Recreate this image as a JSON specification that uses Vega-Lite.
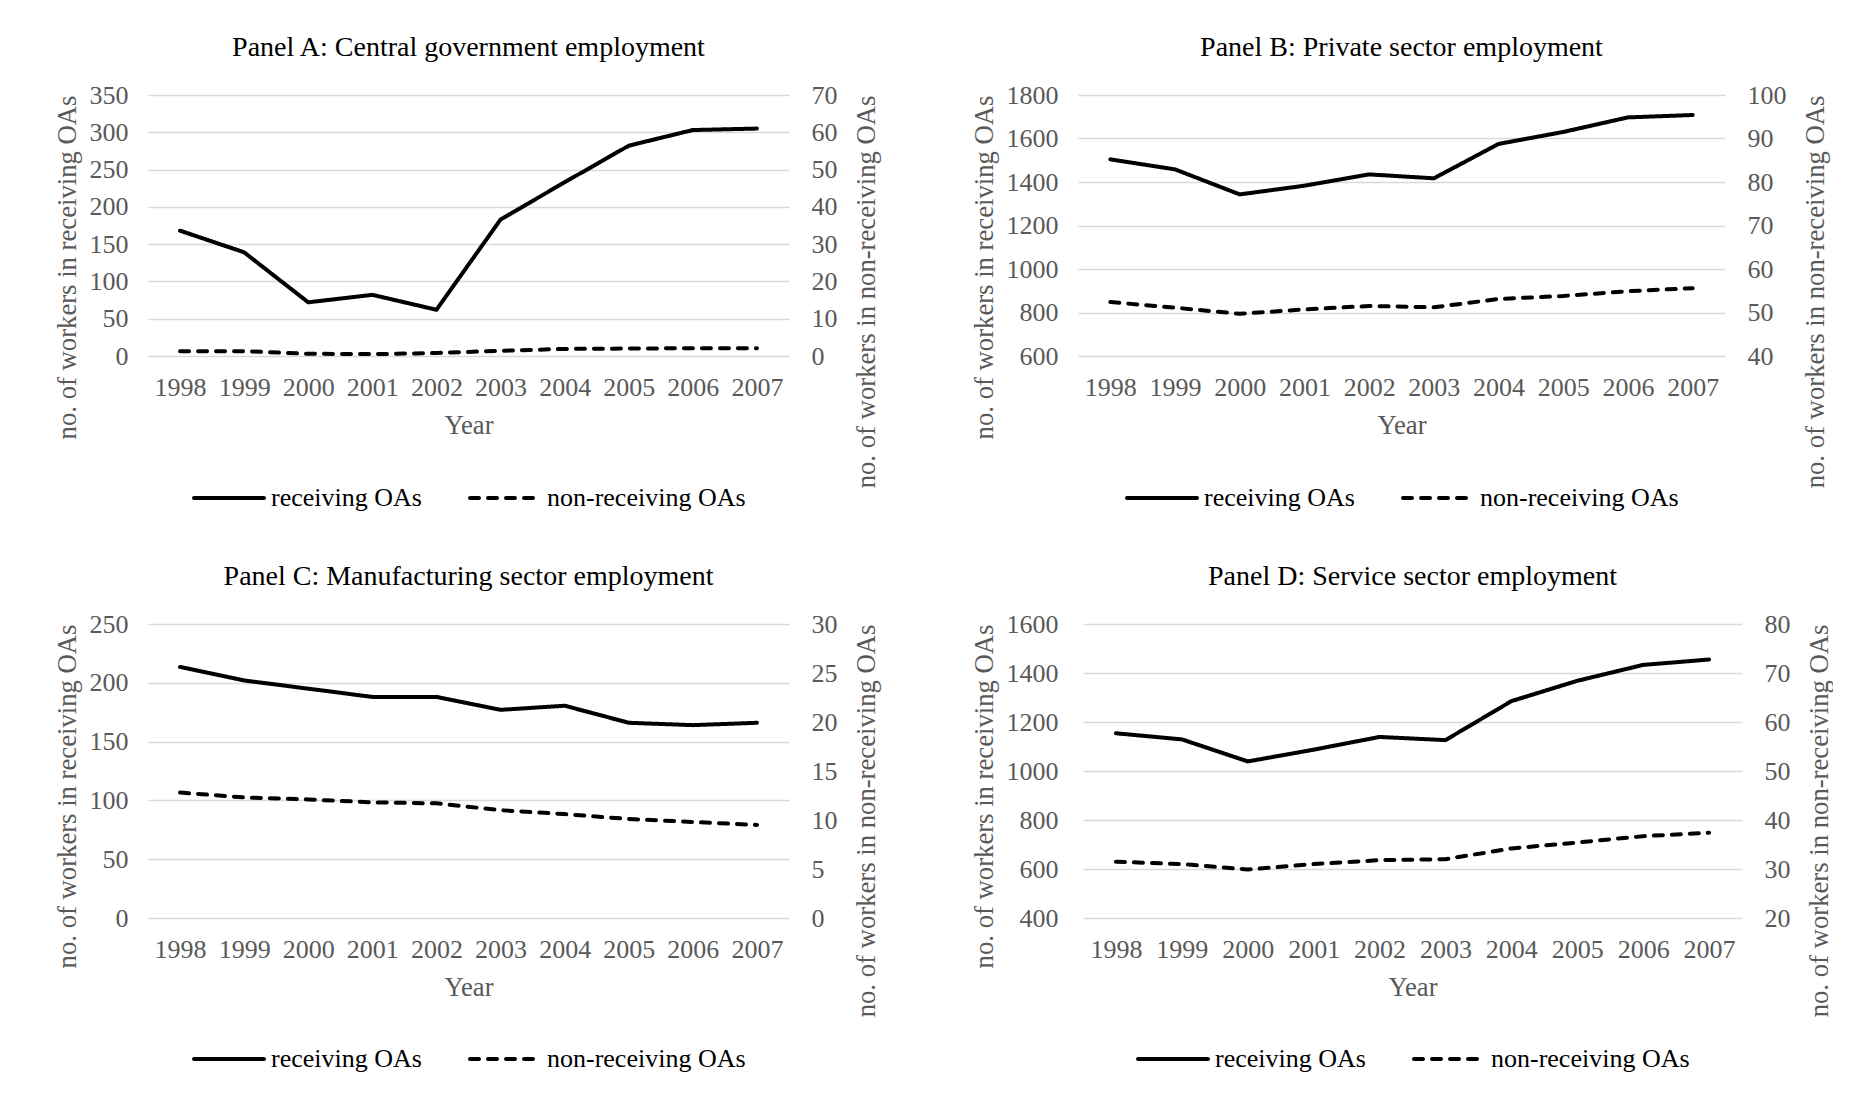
{
  "$schema": "https://vega.github.io/schema/vega-lite/v6.json",
  "background": "white",
  "padding": {"left": 53, "top": 34, "right": 0, "bottom": 0},
  "data": {"values": [
    {"panel":"A","year":"1998","receiving":168,"nonreceiving":1.3},
    {"panel":"A","year":"1999","receiving":139,"nonreceiving":1.3},
    {"panel":"A","year":"2000","receiving":72,"nonreceiving":0.6},
    {"panel":"A","year":"2001","receiving":82,"nonreceiving":0.5},
    {"panel":"A","year":"2002","receiving":62,"nonreceiving":0.8},
    {"panel":"A","year":"2003","receiving":183,"nonreceiving":1.4},
    {"panel":"A","year":"2004","receiving":233,"nonreceiving":1.9},
    {"panel":"A","year":"2005","receiving":282,"nonreceiving":2.0},
    {"panel":"A","year":"2006","receiving":303,"nonreceiving":2.1},
    {"panel":"A","year":"2007","receiving":305,"nonreceiving":2.1},
    {"panel":"B","year":"1998","receiving":1504,"nonreceiving":52.4},
    {"panel":"B","year":"1999","receiving":1458,"nonreceiving":51.1},
    {"panel":"B","year":"2000","receiving":1343,"nonreceiving":49.7},
    {"panel":"B","year":"2001","receiving":1383,"nonreceiving":50.7},
    {"panel":"B","year":"2002","receiving":1435,"nonreceiving":51.5},
    {"panel":"B","year":"2003","receiving":1417,"nonreceiving":51.2},
    {"panel":"B","year":"2004","receiving":1575,"nonreceiving":53.1},
    {"panel":"B","year":"2005","receiving":1630,"nonreceiving":53.8},
    {"panel":"B","year":"2006","receiving":1697,"nonreceiving":54.9},
    {"panel":"B","year":"2007","receiving":1708,"nonreceiving":55.6},
    {"panel":"C","year":"1998","receiving":213.5,"nonreceiving":12.8},
    {"panel":"C","year":"1999","receiving":202,"nonreceiving":12.3},
    {"panel":"C","year":"2000","receiving":195,"nonreceiving":12.1},
    {"panel":"C","year":"2001","receiving":188,"nonreceiving":11.8},
    {"panel":"C","year":"2002","receiving":188,"nonreceiving":11.7},
    {"panel":"C","year":"2003","receiving":177,"nonreceiving":11.0},
    {"panel":"C","year":"2004","receiving":180.5,"nonreceiving":10.6},
    {"panel":"C","year":"2005","receiving":166,"nonreceiving":10.1},
    {"panel":"C","year":"2006","receiving":164,"nonreceiving":9.8},
    {"panel":"C","year":"2007","receiving":166,"nonreceiving":9.5},
    {"panel":"D","year":"1998","receiving":1154,"nonreceiving":31.5},
    {"panel":"D","year":"1999","receiving":1129,"nonreceiving":31.0},
    {"panel":"D","year":"2000","receiving":1039,"nonreceiving":29.9},
    {"panel":"D","year":"2001","receiving":1087,"nonreceiving":31.0},
    {"panel":"D","year":"2002","receiving":1139,"nonreceiving":31.8},
    {"panel":"D","year":"2003","receiving":1126,"nonreceiving":32.0},
    {"panel":"D","year":"2004","receiving":1285,"nonreceiving":34.2},
    {"panel":"D","year":"2005","receiving":1368,"nonreceiving":35.4},
    {"panel":"D","year":"2006","receiving":1433,"nonreceiving":36.7},
    {"panel":"D","year":"2007","receiving":1455,"nonreceiving":37.4}
  ]},
  "spacing": 52,
  "resolve": {"scale": {"strokeDash": "independent"}, "legend": {"strokeDash": "independent"}},
  "vconcat": [
    {
      "spacing": 90,
      "resolve": {"scale": {"strokeDash": "independent"}, "legend": {"strokeDash": "independent"}},
      "hconcat": [
        {
          "width": 641, "height": 261,
          "title": {"text": "Panel A: Central government employment", "offset": 20},
          "transform": [{"filter": "datum.panel === 'A'"}],
          "encoding": {"x": {"field": "year", "type": "ordinal", "axis": {"title": "Year", "labelAngle": 0, "grid": false, "labelPadding": 18, "titlePadding": 12, "labelOverlap": false, "labelFont": "Liberation Serif"}}},
          "layer": [
            {"mark": {"type": "line", "color": "black", "strokeWidth": 4, "strokeCap": "round", "strokeJoin": "round"},
             "encoding": {
               "y": {"field": "receiving", "type": "quantitative", "scale": {"domain": [0, 350], "nice": false, "zero": false},
                     "axis": {"title": "no. of workers in receiving OAs", "values": [0,50,100,150,200,250,300,350], "format": "d", "grid": true, "labelPadding": 20, "titlePadding": 8, "titleAnchor": "end", "labelFont": "Liberation Serif"}},
               "strokeDash": {"datum": "receiving OAs", "type": "nominal",
                 "scale": {"domain": ["receiving OAs", "non-receiving OAs"], "range": [[1, 0], [9, 9]]},
                 "legend": {"orient": "bottom", "direction": "horizontal", "title": null, "offset": 22, "symbolType": "stroke", "symbolSize": 4900, "symbolStrokeWidth": 4, "symbolStrokeColor": "black", "labelFontSize": 26, "labelColor": "black", "labelFont": "Liberation Serif", "labelLimit": 500, "columnPadding": 40, "labelOffset": 5, "encode": {"symbols": {"update": {"strokeCap": {"value": "round"}}}}}}
             }},
            {"mark": {"type": "line", "color": "black", "strokeWidth": 4, "strokeCap": "round", "strokeJoin": "round"},
             "encoding": {
               "y": {"field": "nonreceiving", "type": "quantitative", "scale": {"domain": [0, 70], "nice": false, "zero": false},
                     "axis": {"orient": "right", "title": "no. of workers in non-receiving OAs", "values": [0,10,20,30,40,50,60,70], "format": "d", "grid": false, "labelPadding": 22, "titlePadding": 16, "titleAngle": 270, "titleBaseline": "top", "titleAnchor": "end", "labelAlign": "left", "labelFont": "Liberation Serif"}},
               "strokeDash": {"datum": "non-receiving OAs", "type": "nominal"}
             }}
          ],
          "resolve": {"scale": {"y": "independent"}}
        },
        {
          "width": 647, "height": 261,
          "title": {"text": "Panel B: Private sector employment", "offset": 20},
          "transform": [{"filter": "datum.panel === 'B'"}],
          "encoding": {"x": {"field": "year", "type": "ordinal", "axis": {"title": "Year", "labelAngle": 0, "grid": false, "labelPadding": 18, "titlePadding": 12, "labelOverlap": false, "labelFont": "Liberation Serif"}}},
          "layer": [
            {"mark": {"type": "line", "color": "black", "strokeWidth": 4, "strokeCap": "round", "strokeJoin": "round"},
             "encoding": {
               "y": {"field": "receiving", "type": "quantitative", "scale": {"domain": [600, 1800], "nice": false, "zero": false},
                     "axis": {"title": "no. of workers in receiving OAs", "values": [600,800,1000,1200,1400,1600,1800], "format": "d", "grid": true, "labelPadding": 20, "titlePadding": 8, "titleAnchor": "end", "labelFont": "Liberation Serif"}},
               "strokeDash": {"datum": "receiving OAs", "type": "nominal",
                 "scale": {"domain": ["receiving OAs", "non-receiving OAs"], "range": [[1, 0], [9, 9]]},
                 "legend": {"orient": "bottom", "direction": "horizontal", "title": null, "offset": 22, "symbolType": "stroke", "symbolSize": 4900, "symbolStrokeWidth": 4, "symbolStrokeColor": "black", "labelFontSize": 26, "labelColor": "black", "labelFont": "Liberation Serif", "labelLimit": 500, "columnPadding": 40, "labelOffset": 5, "encode": {"symbols": {"update": {"strokeCap": {"value": "round"}}}}}}
             }},
            {"mark": {"type": "line", "color": "black", "strokeWidth": 4, "strokeCap": "round", "strokeJoin": "round"},
             "encoding": {
               "y": {"field": "nonreceiving", "type": "quantitative", "scale": {"domain": [40, 100], "nice": false, "zero": false},
                     "axis": {"orient": "right", "title": "no. of workers in non-receiving OAs", "values": [40,50,60,70,80,90,100], "format": "d", "grid": false, "labelPadding": 22, "titlePadding": 16, "titleAngle": 270, "titleBaseline": "top", "titleAnchor": "end", "labelAlign": "left", "labelFont": "Liberation Serif"}},
               "strokeDash": {"datum": "non-receiving OAs", "type": "nominal"}
             }}
          ],
          "resolve": {"scale": {"y": "independent"}}
        }
      ]
    },
    {
      "spacing": 90,
      "resolve": {"scale": {"strokeDash": "independent"}, "legend": {"strokeDash": "independent"}},
      "hconcat": [
        {
          "width": 641, "height": 294,
          "title": {"text": "Panel C: Manufacturing sector employment", "offset": 20},
          "transform": [{"filter": "datum.panel === 'C'"}],
          "encoding": {"x": {"field": "year", "type": "ordinal", "axis": {"title": "Year", "labelAngle": 0, "grid": false, "labelPadding": 18, "titlePadding": 12, "labelOverlap": false, "labelFont": "Liberation Serif"}}},
          "layer": [
            {"mark": {"type": "line", "color": "black", "strokeWidth": 4, "strokeCap": "round", "strokeJoin": "round"},
             "encoding": {
               "y": {"field": "receiving", "type": "quantitative", "scale": {"domain": [0, 250], "nice": false, "zero": false},
                     "axis": {"title": "no. of workers in receiving OAs", "values": [0,50,100,150,200,250], "format": "d", "grid": true, "labelPadding": 20, "titlePadding": 8, "titleAnchor": "end", "labelFont": "Liberation Serif"}},
               "strokeDash": {"datum": "receiving OAs", "type": "nominal",
                 "scale": {"domain": ["receiving OAs", "non-receiving OAs"], "range": [[1, 0], [9, 9]]},
                 "legend": {"orient": "bottom", "direction": "horizontal", "title": null, "offset": 21, "symbolType": "stroke", "symbolSize": 4900, "symbolStrokeWidth": 4, "symbolStrokeColor": "black", "labelFontSize": 26, "labelColor": "black", "labelFont": "Liberation Serif", "labelLimit": 500, "columnPadding": 40, "labelOffset": 5, "encode": {"symbols": {"update": {"strokeCap": {"value": "round"}}}}}}
             }},
            {"mark": {"type": "line", "color": "black", "strokeWidth": 4, "strokeCap": "round", "strokeJoin": "round"},
             "encoding": {
               "y": {"field": "nonreceiving", "type": "quantitative", "scale": {"domain": [0, 30], "nice": false, "zero": false},
                     "axis": {"orient": "right", "title": "no. of workers in non-receiving OAs", "values": [0,5,10,15,20,25,30], "format": "d", "grid": false, "labelPadding": 22, "titlePadding": 16, "titleAngle": 270, "titleBaseline": "top", "titleAnchor": "end", "labelAlign": "left", "labelFont": "Liberation Serif"}},
               "strokeDash": {"datum": "non-receiving OAs", "type": "nominal"}
             }}
          ],
          "resolve": {"scale": {"y": "independent"}}
        },
        {
          "width": 659, "height": 294,
          "title": {"text": "Panel D: Service sector employment", "offset": 20},
          "transform": [{"filter": "datum.panel === 'D'"}],
          "encoding": {"x": {"field": "year", "type": "ordinal", "axis": {"title": "Year", "labelAngle": 0, "grid": false, "labelPadding": 18, "titlePadding": 12, "labelOverlap": false, "labelFont": "Liberation Serif"}}},
          "layer": [
            {"mark": {"type": "line", "color": "black", "strokeWidth": 4, "strokeCap": "round", "strokeJoin": "round"},
             "encoding": {
               "y": {"field": "receiving", "type": "quantitative", "scale": {"domain": [400, 1600], "nice": false, "zero": false},
                     "axis": {"title": "no. of workers in receiving OAs", "values": [400,600,800,1000,1200,1400,1600], "format": "d", "grid": true, "labelPadding": 25, "titlePadding": 8, "titleAnchor": "end", "labelFont": "Liberation Serif"}},
               "strokeDash": {"datum": "receiving OAs", "type": "nominal",
                 "scale": {"domain": ["receiving OAs", "non-receiving OAs"], "range": [[1, 0], [9, 9]]},
                 "legend": {"orient": "bottom", "direction": "horizontal", "title": null, "offset": 21, "symbolType": "stroke", "symbolSize": 4900, "symbolStrokeWidth": 4, "symbolStrokeColor": "black", "labelFontSize": 26, "labelColor": "black", "labelFont": "Liberation Serif", "labelLimit": 500, "columnPadding": 40, "labelOffset": 5, "encode": {"symbols": {"update": {"strokeCap": {"value": "round"}}}}}}
             }},
            {"mark": {"type": "line", "color": "black", "strokeWidth": 4, "strokeCap": "round", "strokeJoin": "round"},
             "encoding": {
               "y": {"field": "nonreceiving", "type": "quantitative", "scale": {"domain": [20, 80], "nice": false, "zero": false},
                     "axis": {"orient": "right", "title": "no. of workers in non-receiving OAs", "values": [20,30,40,50,60,70,80], "format": "d", "grid": false, "labelPadding": 22, "titlePadding": 16, "titleAngle": 270, "titleBaseline": "top", "titleAnchor": "end", "labelAlign": "left", "labelFont": "Liberation Serif"}},
               "strokeDash": {"datum": "non-receiving OAs", "type": "nominal"}
             }}
          ],
          "resolve": {"scale": {"y": "independent"}}
        }
      ]
    }
  ],
  "config": {
    "font": "Liberation Serif",
    "view": {"stroke": null},
    "style": {"guide-label": {"font": "Liberation Serif"}, "guide-title": {"font": "Liberation Serif"}},
    "axis": {"labelFont": "Liberation Serif", "labelFontSize": 26, "labelColor": "#595959", "titleFont": "Liberation Serif", "titleFontSize": 26.7, "titleColor": "#595959", "titleFontWeight": "normal", "domain": false, "ticks": false, "tickSize": 0, "gridColor": "#d9d9d9", "gridWidth": 1.5, "labelFlush": false},
    "title": {"font": "Liberation Serif", "fontSize": 28, "fontWeight": "normal", "color": "black", "anchor": "middle"},
    "legend": {"labelFont": "Liberation Serif", "layout": {"bottom": {"anchor": "middle"}}}
  }
}
